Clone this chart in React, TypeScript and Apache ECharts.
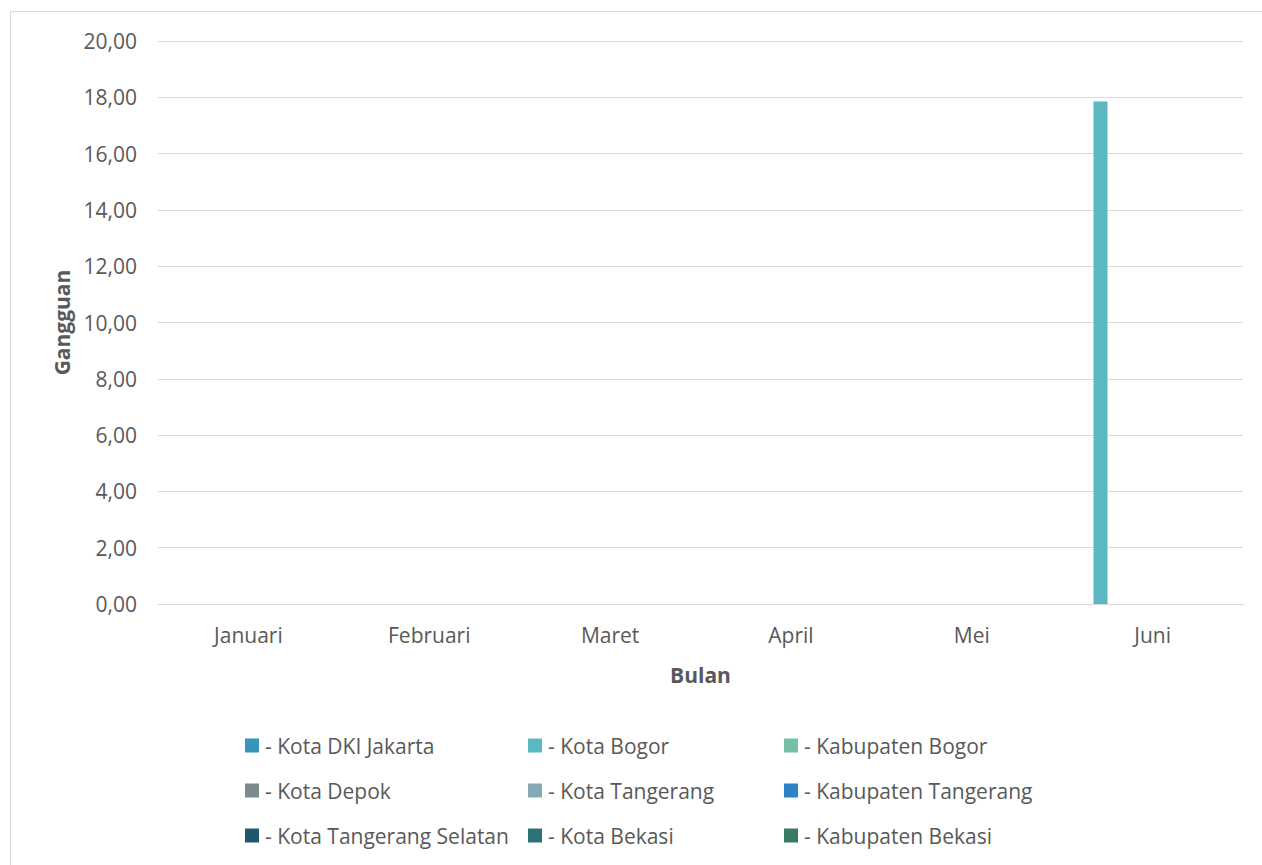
import React, { useEffect, useRef } from "react";
import * as echarts from "echarts";

const categories = ["Januari", "Februari", "Maret", "April", "Mei", "Juni"];
const seriesNames = [
  "- Kota DKI Jakarta",
  "- Kota Bogor",
  "- Kabupaten Bogor",
  "- Kota Depok",
  "- Kota Tangerang",
  "- Kabupaten Tangerang",
  "- Kota Tangerang Selatan",
  "- Kota Bekasi",
  "- Kabupaten Bekasi",
];
const kotaDKIJakarta = [0, 0, 0, 0, 0, 0];
const kotaBogor = [0, 0, 0, 0, 0, 17.85];
const kabupatenBogor = [0, 0, 0, 0, 0, 0];
const kotaDepok = [0, 0, 0, 0, 0, 0];
const kotaTangerang = [0, 0, 0, 0, 0, 0];
const kabupatenTangerang = [0, 0, 0, 0, 0, 0];
const kotaTangerangSelatan = [0, 0, 0, 0, 0, 0];
const kotaBekasi = [0, 0, 0, 0, 0, 0];
const kabupatenBekasi = [0, 0, 0, 0, 0, 0];
const seriesValues = [
  kotaDKIJakarta,
  kotaBogor,
  kabupatenBogor,
  kotaDepok,
  kotaTangerang,
  kabupatenTangerang,
  kotaTangerangSelatan,
  kotaBekasi,
  kabupatenBekasi,
];
const colors = [
  "#3595BD",
  "#5BB7C1",
  "#74BFA5",
  "#7B8A8C",
  "#84AAB4",
  "#2A82C8",
  "#1F586E",
  "#2C7276",
  "#397A62",
];
const yTicks = { min: 0, max: 20, interval: 2 };

const FONT = "Open Sans";
const legendX = [245, 528, 784];
const legendY = [735, 780, 825];

export default function App() {
  const ref = useRef<HTMLDivElement>(null);
  useEffect(() => {
    document.body.style.margin = "0";
    const chart = echarts.init(ref.current!, null, { renderer: "svg" });
    const legends = seriesNames.map((name, i) => ({
      data: [name],
      left: legendX[i % 3],
      top: legendY[Math.floor(i / 3)],
      itemWidth: 14,
      itemHeight: 14,
      icon: "rect",
      padding: 0,
      selectedMode: false,
      textStyle: {
        color: "#595959",
        fontSize: 21,
        lineHeight: 14,
        fontFamily: FONT,
        padding: [0, 0, 0, 1],
      },
    }));
    chart.setOption({
      animation: false,
      color: colors,
      textStyle: { fontFamily: FONT },
      graphic: [
        {
          type: "rect",
          shape: { x: 10.5, y: 11.5, width: 1300, height: 900 },
          style: { fill: "none", stroke: "#D9D9D9", lineWidth: 1 },
          silent: true,
        },
      ],
      legend: legends,
      grid: { left: 158, right: 19, top: 41, bottom: 261, containLabel: false },
      xAxis: {
        type: "category",
        data: categories,
        name: "Bulan",
        nameLocation: "middle",
        nameGap: 60,
        nameTextStyle: { color: "#595959", fontSize: 21, fontWeight: "bold", fontFamily: FONT },
        axisLine: { lineStyle: { color: "#D9D9D9", width: 1 } },
        axisTick: { show: false },
        axisLabel: { color: "#595959", fontSize: 21, margin: 20, fontFamily: FONT },
      },
      yAxis: {
        type: "value",
        min: yTicks.min,
        max: yTicks.max,
        interval: yTicks.interval,
        name: "Gangguan",
        nameLocation: "middle",
        nameGap: 85,
        nameRotate: 90,
        nameTextStyle: { color: "#595959", fontSize: 21, fontWeight: "bold", fontFamily: FONT },
        axisLine: { show: false },
        axisTick: { show: false },
        splitLine: { lineStyle: { color: "#D9D9D9", width: 1 } },
        axisLabel: {
          color: "#595959",
          fontSize: 21,
          margin: 21,
          fontFamily: FONT,
          formatter: (v: number) => v.toFixed(2).replace(".", ","),
        },
      },
      series: seriesNames.map((name, i) => ({
        type: "bar",
        name,
        data: seriesValues[i],
        barWidth: 14,
        barGap: "24%",
        itemStyle: { color: colors[i] },
      })),
    });
    return () => chart.dispose();
  }, []);
  return <div ref={ref} style={{ width: 1262, height: 865, background: "#fff" }} />;
}
